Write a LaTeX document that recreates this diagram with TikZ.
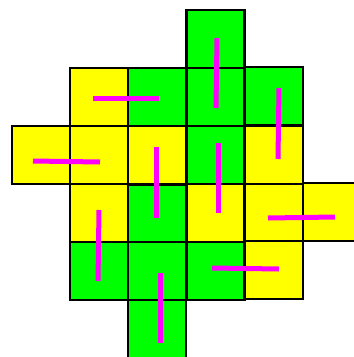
\documentclass[tikz,border=0pt]{standalone}
\usetikzlibrary{calc}
\definecolor{tileY}{HTML}{FFFF00}
\definecolor{tileG}{HTML}{00FF00}
\definecolor{bar}{HTML}{FF00FF}
\tikzset{cell/.style={draw=black,line width=2.6pt,minimum size=58pt,inner sep=0pt,outer sep=0pt},domino/.style={draw=bar,line width=5pt}}
\begin{document}
\begin{tikzpicture}[x=1pt,y=-1pt]
\useasboundingbox (0,0) rectangle (354,357);
\clip (0,0) rectangle (354,357);
% tiles
\node[cell,fill=tileG] (c30) at (215.5,39) {};
\node[cell,fill=tileY] (c11) at (99,97) {};
\node[cell,fill=tileG] (c21) at (157,97) {};
\node[cell,fill=tileG] (c31) at (215.5,97) {};
\node[cell,fill=tileG] (c41) at (274,96) {};
\node[cell,fill=tileY] (c02) at (41,155) {};
\node[cell,fill=tileY] (c12) at (99,155) {};
\node[cell,fill=tileY] (c22) at (157,155) {};
\node[cell,fill=tileG] (c32) at (215.5,155) {};
\node[cell,fill=tileY] (c42) at (274,155) {};
\node[cell,fill=tileY] (c13) at (99,213) {};
\node[cell,fill=tileG] (c23) at (157,214) {};
\node[cell,fill=tileY] (c33) at (215.5,213) {};
\node[cell,fill=tileY] (c43) at (274,213) {};
\node[cell,fill=tileY] (c53) at (332,212) {};
\node[cell,fill=tileG] (c14) at (99,271) {};
\node[cell,fill=tileG] (c24) at (157,271) {};
\node[cell,fill=tileG] (c34) at (215.5,271) {};
\node[cell,fill=tileY] (c44) at (274,270) {};
\node[cell,fill=tileG] (c25) at (157,329) {};
% dominoes
\draw[domino] ($(c11)+(-6,1)$) -- ($(c21)+(2,1)$);
\draw[domino] ($(c30)+(1.5,-1)$) -- ($(c31)+(0.5,11)$);
\draw[domino] ($(c41)+(5,-8)$) -- ($(c42)+(4,4)$);
\draw[domino] ($(c02)+(-8,6)$) -- ($(c12)+(1,7)$);
\draw[domino] ($(c22)+(-1,-8)$) -- ($(c23)+(-1,4)$);
\draw[domino] ($(c32)+(2.5,-12)$) -- ($(c33)+(2.5,0)$);
\draw[domino] ($(c43)+(-6,5)$) -- ($(c53)+(3,5)$);
\draw[domino] ($(c13)+(0,-3)$) -- ($(c14)+(-1,10)$);
\draw[domino] ($(c34)+(-3.5,-3)$) -- ($(c44)+(5,-1)$);
\draw[domino] ($(c24)+(3,2)$) -- ($(c25)+(3,14)$);
\end{tikzpicture}
\end{document}
